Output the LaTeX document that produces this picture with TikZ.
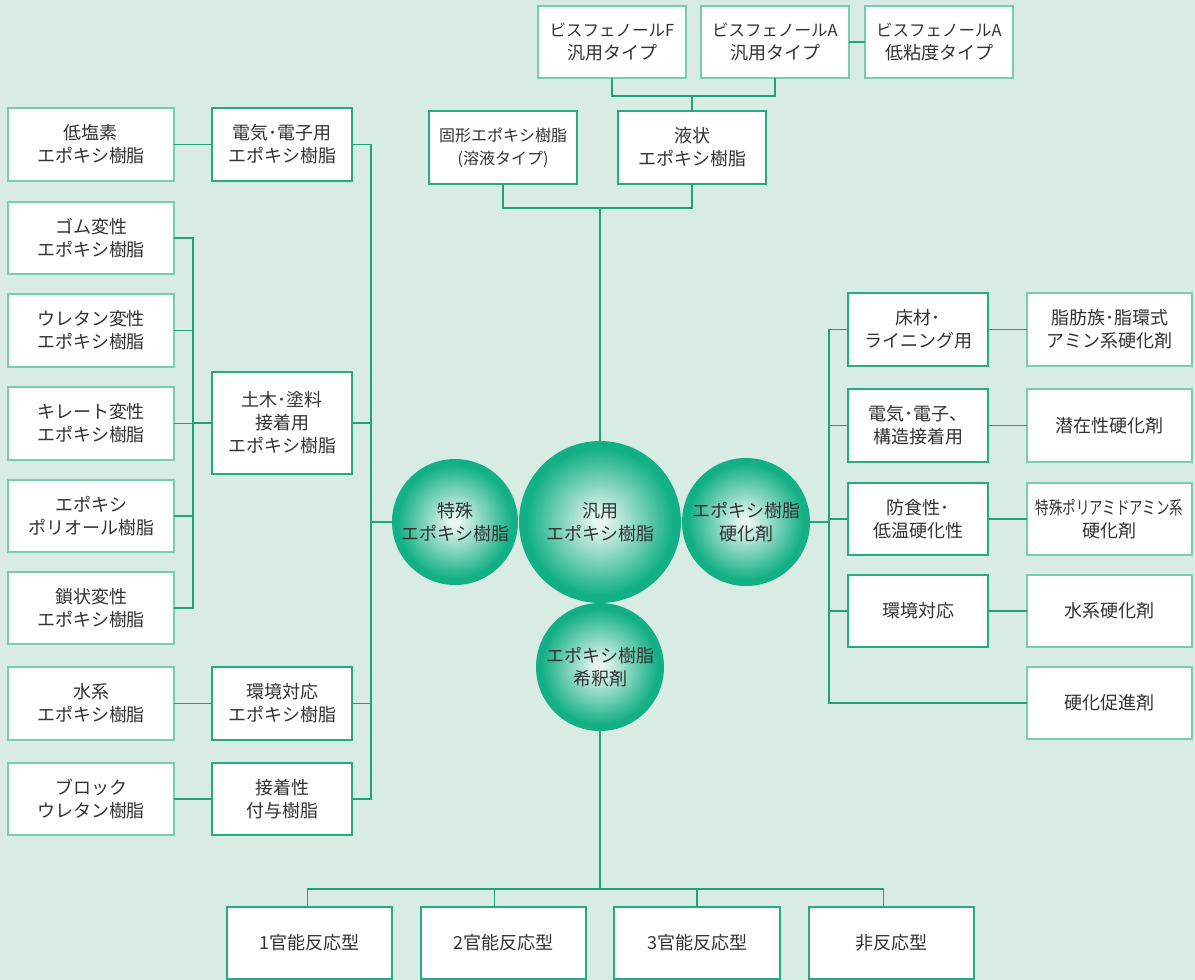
\documentclass[tikz,border=0pt]{standalone}
\usepackage{graphicx}
\usepackage{fontspec}
\setmainfont{Noto Sans CJK JP}
\definecolor{bg}{RGB}{216,236,228}
\definecolor{dk}{RGB}{38,170,130}
\definecolor{lt}{RGB}{118,206,176}
\definecolor{ln}{RGB}{30,163,123}
\definecolor{txt}{RGB}{50,50,50}
\definecolor{ballin}{RGB}{232,246,240}
\definecolor{ballout}{RGB}{18,176,132}
\newcommand\mkbox[7]{\node[#1, minimum width={(#5)-(#3)}, minimum height={(#6)-(#4)}] (#2) at ({((#3)+(#5))/2},{((#4)+(#6))/2}) {#7};}
\newcommand\ballfill[3]{%
  \foreach \k in {0,...,48}{%
    \pgfmathsetmacro\ss{1-\k/48}%
    \pgfmathsetmacro\pp{100*min(1,max(0,(\ss-0.08)/0.84))}%
    \fill[ballout!\pp!ballin] (#1,#2) circle[radius={#3*\ss}];}}
\begin{document}
\begin{tikzpicture}[x=1pt,y=-1pt,
  every node/.style={text=txt, font=\fontsize{18}{23}\selectfont, align=center, inner sep=0pt, outer sep=0pt},
  leaf/.style={draw=lt, fill=white, line width=1.3pt},
  mainbox/.style={draw=dk, fill=white, line width=1.7pt},
  conn/.style={draw=ln, line width=1.2pt},
  sphere/.style={circle, inner sep=0pt}]
\fill[bg] (0,0) rectangle (1195,980);
\useasboundingbox (0,0) rectangle (1195,980);
% top
\mkbox{leaf}{bisF}{538}{6}{686}{78}{{\fontsize{16.5}{23}\selectfont ビスフェノールF}\\汎用タイプ}
\mkbox{leaf}{bisA}{701}{6}{849}{78}{{\fontsize{16.5}{23}\selectfont ビスフェノールA}\\汎用タイプ}
\mkbox{leaf}{bisL}{865}{6}{1013}{78}{{\fontsize{16.5}{23}\selectfont ビスフェノールA}\\低粘度タイプ}
\mkbox{mainbox}{solid}{429}{111}{577}{184}{{\fontsize{16}{23}\selectfont 固形エポキシ樹脂}\\{\fontsize{16}{23}\selectfont (溶液タイプ)}}
\mkbox{mainbox}{liq}{618}{111}{766}{184}{液状\\エポキシ樹脂}
% left outer
\mkbox{leaf}{low}{8}{108}{174}{181}{低塩素\\エポキシ樹脂}
\mkbox{leaf}{gom}{8}{202}{174}{274}{ゴム変性\\エポキシ樹脂}
\mkbox{leaf}{ure}{8}{294}{174}{367}{ウレタン変性\\エポキシ樹脂}
\mkbox{leaf}{kire}{8}{387}{174}{460}{キレート変性\\エポキシ樹脂}
\mkbox{leaf}{poly}{8}{480}{174}{552}{エポキシ\\ポリオール樹脂}
\mkbox{leaf}{chain}{8}{572}{174}{644}{鎖状変性\\エポキシ樹脂}
\mkbox{leaf}{aq}{8}{667}{174}{740}{水系\\エポキシ樹脂}
\mkbox{leaf}{blk}{8}{763}{174}{835}{ブロック\\ウレタン樹脂}
% left middle
\mkbox{mainbox}{elec}{212}{108}{352}{181}{電気･電子用\\エポキシ樹脂}
\mkbox{mainbox}{civil}{212}{372}{352}{474}{土木･塗料\\接着用\\エポキシ樹脂}
\mkbox{mainbox}{env}{212}{667}{352}{740}{環境対応\\エポキシ樹脂}
\mkbox{mainbox}{adh}{212}{763}{352}{835}{接着性\\付与樹脂}
% right middle
\mkbox{mainbox}{floor}{848}{293}{988}{366}{床材･\\ライニング用}
\mkbox{mainbox}{elecb}{848}{389}{988}{462}{電気･電子、\\構造接着用}
\mkbox{mainbox}{anti}{848}{483}{988}{555}{防食性･\\低温硬化性}
\mkbox{mainbox}{envb}{848}{575}{988}{647}{環境対応}
% right outer
\mkbox{leaf}{amine}{1027}{293}{1192}{366}{脂肪族･脂環式\\アミン系硬化剤}
\mkbox{leaf}{latent}{1027}{389}{1192}{462}{潜在性硬化剤}
\mkbox{leaf}{pamid}{1027}{483}{1192}{555}{\scalebox{0.75}[1]{特殊ポリアミドアミン系}\\硬化剤}
\mkbox{leaf}{aqh}{1027}{575}{1192}{647}{水系硬化剤}
\mkbox{leaf}{acc}{1027}{667}{1192}{739}{硬化促進剤}
% bottom
\mkbox{mainbox}{ra}{227}{907}{392}{979}{1官能反応型}
\mkbox{mainbox}{rb}{421}{907}{586}{979}{2官能反応型}
\mkbox{mainbox}{rc}{614}{907}{780}{979}{3官能反応型}
\mkbox{mainbox}{rd}{809}{907}{974}{979}{非反応型}
% circles
\ballfill{455}{522}{63}
\ballfill{746}{522}{64}
\ballfill{600}{667}{64}
\ballfill{600}{522}{81}
\node[sphere, minimum size=126] (toku) at (455,522) {特殊\\エポキシ樹脂};
\node[sphere, minimum size=128] (hard) at (746,522) {エポキシ樹脂\\硬化剤};
\node[sphere, minimum size=128] (dil) at (600,667) {エポキシ樹脂\\希釈剤};
\node[sphere, minimum size=162] (han) at (600,522) {汎用\\エポキシ樹脂};
% connectors top
\coordinate (jt) at (692,96);
\coordinate (jb) at (600,208);
\draw[conn] (bisF.south) |- (jt) -| (bisA.south);
\draw[conn] (jt) -- (liq.north);
\draw[conn] (bisA.east) -- (bisL.west);
\draw[conn] (solid.south) |- (jb) -| (liq.south);
\draw[conn] (jb) -- (han.north);
% connectors left
\coordinate (lb) at (371,0);
\coordinate (gb) at (193,0);
\draw[conn] (low.east) -- (elec.west);
\draw[conn] (elec.east) -- (elec.east -| lb) -- (adh.east -| lb) -- (adh.east);
\draw[conn] (civil.east) -- (civil.east -| lb);
\draw[conn] (env.east) -- (env.east -| lb);
\draw[conn] (toku.west) -- (toku.west -| lb);
\draw[conn] (gom.east) -- (gom.east -| gb) -- (chain.east -| gb) -- (chain.east);
\foreach \n in {ure,kire,poly} \draw[conn] (\n.east) -- (\n.east -| gb);
\draw[conn] (civil.west -| gb) -- (civil.west);
\draw[conn] (aq.east) -- (env.west);
\draw[conn] (blk.east) -- (adh.west);
% connectors right
\coordinate (rbus) at (829,0);
\draw[conn] (floor.west) -- (floor.west -| rbus) -- (acc.west -| rbus) -- (acc.west);
\foreach \n in {elecb,anti,envb} \draw[conn] (\n.west) -- (\n.west -| rbus);
\draw[conn] (hard.east) -- (hard.east -| rbus);
\draw[conn] (floor.east) -- (amine.west);
\draw[conn] (elecb.east) -- (latent.west);
\draw[conn] (anti.east) -- (pamid.west);
\draw[conn] (envb.east) -- (aqh.west);
% connectors bottom
\coordinate (jd) at (600,889);
\draw[conn] (dil.south) -- (jd);
\draw[conn] ([xshift=-2]ra.north) |- (jd) -| ([xshift=-8]rd.north);
\draw[conn] ([xshift=-9]rb.north) -- ([xshift=-9]rb.north |- jd);
\draw[conn] (rc.north) -- (rc.north |- jd);
\end{tikzpicture}
\end{document}
